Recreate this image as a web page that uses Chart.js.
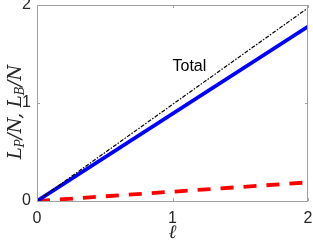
<!DOCTYPE html>
<html>
<head>
<meta charset="utf-8">
<script src="https://cdn.jsdelivr.net/npm/chart.js@4"></script>
<style>
  html, body { margin: 0; padding: 0; background: #fff; }
  #wrap { width: 313px; height: 244px; }
</style>
</head>
<body>
<div id="wrap"><canvas id="chart" width="313" height="244"></canvas></div>
<script>
// values
const ell = [0, 2];
const totalVals = [0, 1.97];
const lpVals = [0, 1.78];
const lbVals = [0, 0.19];
const xTicks = [0, 1, 2];
const yTicks = [0, 1, 2];
const totalLabel = 'Total';
const totalLabelAt = [1.0, 1.33];

const axisGray = '#a0a0a0';
const textColor = '#262626';

function toPoints(xs, ys) {
    return xs.map((x, i) => ({ x: x, y: ys[i] }));
}

function noPad(s) {
    s.paddingLeft = 0; s.paddingRight = 0; s.paddingTop = 0; s.paddingBottom = 0;
}

// box round the plot, inward ticks on all four sides, text note and y title
const extras = {
    id: 'extras',
    afterDatasetsDraw(chart) {
        const ctx = chart.ctx;
        const a = chart.chartArea;
        const xs = chart.scales.x;
        const ys = chart.scales.y;
        ctx.save();
        ctx.strokeStyle = axisGray;
        ctx.lineWidth = 1;
        ctx.strokeRect(a.left + 0.5, a.top + 0.5, a.right - a.left - 1, a.bottom - a.top);
        ctx.beginPath();
        xTicks.forEach(v => {
            const px = Math.round(xs.getPixelForValue(v)) + 0.5;
            ctx.moveTo(px, a.bottom); ctx.lineTo(px, a.bottom - 3);
            ctx.moveTo(px, a.top); ctx.lineTo(px, a.top + 3);
        });
        yTicks.forEach(v => {
            const py = Math.round(ys.getPixelForValue(v)) + 0.5;
            ctx.moveTo(a.left, py); ctx.lineTo(a.left + 3, py);
            ctx.moveTo(a.right, py); ctx.lineTo(a.right - 3, py);
        });
        ctx.stroke();

        // "Total" note
        ctx.fillStyle = '#000';
        ctx.font = '16px "Liberation Sans", Arial, sans-serif';
        ctx.textAlign = 'left';
        ctx.textBaseline = 'alphabetic';
        ctx.fillText(totalLabel, xs.getPixelForValue(totalLabelAt[0]), ys.getPixelForValue(totalLabelAt[1]));

        // y title with subscripts
        const big = 'italic 18px "DejaVu Serif", "Liberation Serif", serif';
        const small = 'italic 12px "DejaVu Serif", "Liberation Serif", serif';
        const parts = [
            ['L', big, 0], ['P', small, 3], ['/N, ', big, 0],
            ['L', big, 0], ['B', small, 3], ['/N', big, 0]
        ];
        let w = 0;
        parts.forEach(p => { ctx.font = p[1]; w += ctx.measureText(p[0]).width; });
        ctx.translate(21, 112);
        ctx.rotate(-Math.PI / 2);
        ctx.fillStyle = textColor;
        let x = -w / 2;
        parts.forEach(p => {
            ctx.font = p[1];
            ctx.fillText(p[0], x, p[2]);
            x += ctx.measureText(p[0]).width;
        });
        ctx.restore();
    }
};

new Chart(document.getElementById('chart'), {
    type: 'scatter',
    data: {
        datasets: [
            {
                label: 'Total',
                data: toPoints(ell, totalVals),
                showLine: true,
                borderColor: '#000',
                borderWidth: 1.2,
                borderDash: [4, 1.5, 1.5, 1.5],
                pointRadius: 0
            },
            {
                label: 'L_P/N',
                data: toPoints(ell, lpVals),
                showLine: true,
                borderColor: '#0000ff',
                borderWidth: 3.8,
                pointRadius: 0
            },
            {
                label: 'L_B/N',
                data: toPoints(ell, lbVals),
                showLine: true,
                borderColor: '#ff0000',
                borderWidth: 3.8,
                borderDash: [13, 10],
                pointRadius: 0
            }
        ]
    },
    options: {
        responsive: false,
        animation: false,
        layout: { padding: { top: 5, right: 5, left: 0, bottom: 0 } },
        plugins: { legend: { display: false }, tooltip: { enabled: false } },
        scales: {
            x: {
                type: 'linear',
                min: 0,
                max: 2,
                afterFit: s => { s.height = 43; noPad(s); },
                afterBuildTicks: s => { s.ticks = xTicks.map(v => ({ value: v })); },
                grid: { display: false, drawTicks: false },
                border: { display: false },
                ticks: {
                    color: textColor,
                    padding: 8,
                    maxRotation: 0,
                    font: { family: '"Liberation Sans", Arial, sans-serif', size: 16 }
                },
                title: {
                    display: true,
                    text: 'ℓ',
                    color: textColor,
                    padding: { top: 0, bottom: 0 },
                    font: { family: '"DejaVu Serif", serif', style: 'italic', size: 19 }
                }
            },
            y: {
                type: 'linear',
                min: 0,
                max: 2,
                afterFit: s => { s.width = 37; noPad(s); },
                afterBuildTicks: s => { s.ticks = yTicks.map(v => ({ value: v })); },
                grid: { display: false, drawTicks: false },
                border: { display: false },
                ticks: {
                    color: textColor,
                    padding: 6,
                    font: { family: '"Liberation Sans", Arial, sans-serif', size: 16 }
                }
            }
        }
    },
    plugins: [extras]
});
</script>
</body>
</html>
